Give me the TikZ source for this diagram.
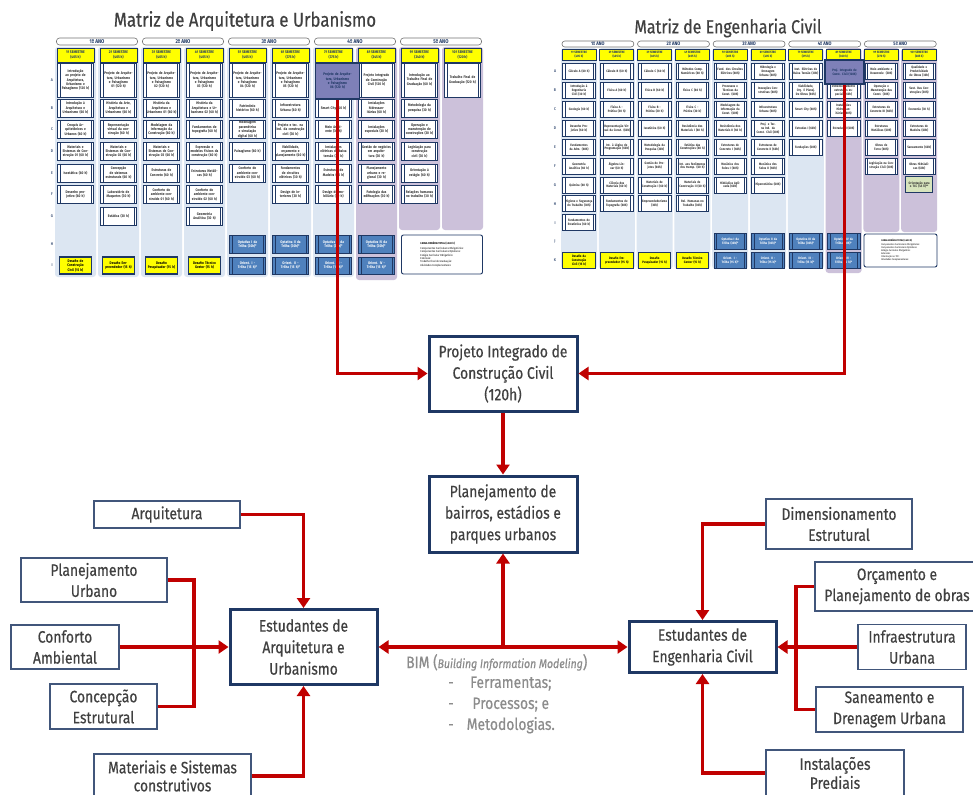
\documentclass[tikz,border=0pt]{standalone}
\usepackage{fontspec}
\setmainfont[FakeStretch=0.85]{Fira Sans}
\newfontfamily\boxfont[FakeStretch=0.84,FakeBold=0.5]{Fira Sans}
\usetikzlibrary{arrows.meta,positioning}

\definecolor{navy}{HTML}{1F3864}
\definecolor{linkred}{HTML}{C00000}
\definecolor{txtgray}{HTML}{404040}
\definecolor{bimgray}{HTML}{8C8C8C}
\definecolor{bgblue}{HTML}{DCE6F2}
\definecolor{bglav}{HTML}{CCC1DA}
\definecolor{optblue}{HTML}{4F81BD}
\definecolor{hiblue}{HTML}{7E80B8}
\definecolor{semyellow}{HTML}{FFFF00}
\definecolor{tccgreen}{HTML}{D7E4BD}

% row centres and heights of the two matrices
\def\arqYA{80}\def\arqHA{34}
\def\arqYB{108}\def\arqHB{18}
\def\arqYC{129.5}\def\arqHC{18}
\def\arqYD{151.5}\def\arqHD{18}
\def\arqYE{173}\def\arqHE{18}
\def\arqYF{194.5}\def\arqHF{18}
\def\arqYG{216}\def\arqHG{18}
\def\arqYH{244.5}\def\arqHH{18}
\def\arqYI{265.5}\def\arqHI{17}
\def\engYA{71.5}\def\engYB{90.4}\def\engYC{109.3}\def\engYD{128.2}
\def\engYE{147.1}\def\engYF{166}\def\engYG{184.9}\def\engYH{203.8}
\def\engYI{222.7}\def\engYJ{241.6}\def\engYK{260.5}

\newcommand{\arqcell}[4][]{\node[disc,#1,minimum height=\csname arqH#3\endcsname pt] (arq#3#2) at ({57+43*(#2-1)+18.5},{\csname arqY#3\endcsname}) {#4};}
\newcommand{\engcell}[4][]{\node[disc,ecell,#1] (eng#3#2) at ({562+37.8*(#2-1)+17},{\csname engY#3\endcsname}) {#4};}

\tikzset{
  mainbox/.style={draw=navy, line width=3pt, fill=white, text=txtgray, align=center, inner sep=2pt, font=\boxfont\fontsize{16.5}{21.5}\selectfont},
  topic/.style={draw=navy!85, line width=1.4pt, fill=white, text=txtgray, align=center, inner sep=2pt, font=\boxfont\fontsize{16.5}{21}\selectfont},
  link/.style={draw=linkred, line width=3.6pt, -{Triangle[length=10pt,width=13pt]}},
  feed/.style={draw=linkred, line width=3.6pt},
  title/.style={text=txtgray, inner sep=0pt, font=\boxfont\fontsize{20}{24}\selectfont},
  bimtext/.style={text=bimgray, inner sep=0pt, align=left, font=\boxfont\fontsize{16.5}{21}\selectfont},
  disc/.style={draw=navy, line width=0.7pt, fill=white, text=black!80, align=center, inner sep=0.3pt,
    minimum width=35.5pt, text width=30pt, font=\fontsize{3.7}{4.4}\selectfont\bfseries,
    path picture={\draw[navy, line width=0.5pt]
      ([xshift=2.5pt]path picture bounding box.north west) -- ([xshift=2.5pt]path picture bounding box.south west)
      ([xshift=-2.5pt]path picture bounding box.north east) -- ([xshift=-2.5pt]path picture bounding box.south east);}},
  ecell/.style={minimum width=32.5pt, text width=27pt, minimum height=16pt, font=\fontsize{3.3}{3.9}\selectfont\bfseries},
  semhead/.style={draw=navy, line width=0.8pt, fill=semyellow, text=navy, align=center, inner sep=0.3pt,
    minimum height=14pt, font=\fontsize{3.8}{4.8}\selectfont\bfseries},
  anopill/.style={draw=black!55, line width=0.6pt, fill=white, rounded corners=3pt, inner sep=0pt,
    minimum height=7pt, text=navy, font=\fontsize{5.5}{5.5}\selectfont\bfseries},
  rowlab/.style={inner sep=0pt, text=navy!80, font=\fontsize{4}{4}\selectfont\bfseries},
  opt/.style={fill=optblue, text=white},
  desafio/.style={fill=semyellow, line width=1.1pt, text=black, path picture={}},
  hilite/.style={fill=hiblue, line width=1.6pt, text=navy, path picture={}},
  tcc/.style={fill=tccgreen, line width=1pt, path picture={}},
  carga/.style={draw=navy, line width=0.9pt, fill=white, rounded corners=2pt, align=left, inner sep=1.5pt,
    text=black, font=\fontsize{2.8}{3.4}\selectfont},
}

\begin{document}
\begin{tikzpicture}[x=1pt,y=-1pt]
\fill[white] (0,0) rectangle (973,794);
\useasboundingbox (0,0) rectangle (973,794);

% ---------- Matriz de Arquitetura e Urbanismo ----------
\node[title] (arqtitle) at (245,21) {Matriz de Arquitetura e Urbanismo};
\foreach \c in {1,...,7}
  \fill[bgblue, rounded corners=3pt] ({57+43*(\c-1)-2},47) rectangle +(41,230);
\fill[bglav, rounded corners=3pt] (356,47) rectangle +(41,233);
\foreach \c in {9,10}
  \fill[bglav, rounded corners=3pt] ({57+43*(\c-1)-2},47) rectangle +(41,183);
\foreach \y in {1,...,5}
  \node[anopill, minimum width=81pt] (arqano\y) at ({57+86*(\y-1)+40},41.5) {{\y}º ANO};
\foreach \c/\h in {1/405,2/405,3/405,4/405,5/405,6/375,7/375,8/345,9/240,10/120}
  \node[semhead, minimum width=37pt] (arqsem\c) at ({57+43*(\c-1)+18.5},55) {{\c}º SEMESTRE\\(\h\ h)};
\foreach \r in {A,B,C,D,E,F,G,H,I}
  \node[rowlab] (arqrow\r) at (52,{\csname arqY\r\endcsname}) {\r};
\foreach \c/\r/\t in {
  1/A/{Introdução ao projeto de Arquitetura, Urbanismo e Paisagismo (120 h)},
  1/B/{Introdução à Arquitetura e Urbanismo (60 h)},
  1/C/{Croquis Arquitetônicos e Urbanos (60 h)},
  1/D/{Materiais e Sistemas de Construção 01 (60 h)},
  1/E/{Isostática (60 h)},
  1/F/{Desenho projetivo (60 h)},
  2/A/{Projeto de Arquitetura, Urbanismo e Paisagismo 01 (120 h)},
  2/B/{História da Arte, Arquitetura e Urbanismo (60 h)},
  2/C/{Representação virtual da construção (60 h)},
  2/D/{Materiais e Sistemas de Construção 02 (60 h)},
  2/E/{Concepção de sistemas estruturais (60 h)},
  2/F/{Laboratório de Maquetes (30 h)},
  2/G/{Estática (30 h)},
  3/A/{Projeto de Arquitetura, Urbanismo e Paisagismo 02 (120 h)},
  3/B/{História da Arquitetura e Urbanismo 01 (60 h)},
  3/C/{Modelagem da Informação da Construção (60 h)},
  3/D/{Materiais e Sistemas de Construção 03 (60 h)},
  3/E/{Estruturas de Concreto (60 h)},
  3/F/{Conforto do ambiente construído 01 (60 h)},
  4/A/{Projeto de Arquitetura, Urbanismo e Paisagismo 03 (120 h)},
  4/B/{História da Arquitetura e Urbanismo 02 (60 h)},
  4/C/{Fundamentos de topografia (60 h)},
  4/D/{Expressão e modelos físicos da construção (60 h)},
  4/E/{Estruturas Metálicas (60 h)},
  4/F/{Conforto do ambiente construído 02 (60 h)},
  4/G/{Geometria Analítica (30 h)},
  5/A/{Projeto de Arquitetura, Urbanismo e Paisagismo 04 (120 h)},
  5/B/{Patrimônio histórico (60 h)},
  5/C/{Modelagem paramétrica e simulação digital (60 h)},
  5/D/{Paisagismo (60 h)},
  5/E/{Conforto do ambiente construído 03 (60 h)},
  6/A/{Projeto de Arquitetura, Urbanismo e Paisagismo 05 (120 h)},
  6/B/{Infraestrutura Urbana (60 h)},
  6/C/{Projeto e tec. na ind. da construção civil (30 h)},
  6/D/{Viabilidade, orçamento e planejamento (60 h)},
  6/E/{Fundamentos de circuitos elétricos (30 h)},
  6/F/{Design de interiores (30 h)},
  7/B/{Smart City (60 h)},
  7/C/{Meio Ambiente (30 h)},
  7/D/{Instalações elétricas de baixa tensão (30 h)},
  7/E/{Estruturas de Madeira (30 h)},
  7/F/{Design de mobiliário (30 h)},
  8/A/{Projeto Integrado de Construção Civil (120 h)},
  8/B/{Instalações hidrossanitárias (60 h)},
  8/C/{Instalações especiais (30 h)},
  8/D/{Gestão de negócios em arquitetura (30 h)},
  8/E/{Planejamento urbano e regional (30 h)},
  8/F/{Patologia das edificações (30 h)},
  9/A/{Introdução ao Trabalho Final de Graduação (60 h)},
  9/B/{Metodologia da pesquisa (30 h)},
  9/C/{Operação e manutenção de construções (30 h)},
  9/D/{Legislação para construção civil (30 h)},
  9/E/{Orientação à estágio (60 h)},
  9/F/{Relações humanas no trabalho (30 h)},
  10/A/{Trabalho Final de Graduação (120 h)}}
  \arqcell{\c}{\r}{\t};
\foreach \c/\k in {5/I,6/II,7/III,8/IV} {
  \arqcell[opt]{\c}{H}{Optativa \k\ da Trilha (30h)*}
  \arqcell[opt]{\c}{I}{Orient. \k\ - Trilha (15 h)*}
}
\foreach \c/\t in {1/{Desafio de Construção Civil (15 h)},2/{Desafio Empreendedor (15 h)},
                   3/{Desafio Pesquisador (15 h)},4/{Desafio Técnico Gestor (15 h)}}
  \arqcell[desafio, minimum width=32pt]{\c}{I}{\t};
\node[disc, hilite, minimum width=44pt, minimum height=36pt] (arqA7) at (337.5,81)
  {Projeto de Arquitetura, Urbanismo e Paisagismo 06 (120 h)};
\node[carga, minimum width=81pt, minimum height=39pt] (arqcarga) at (442,254.5)
  {\hfill\textbf{CARGA HORÁRIA TOTAL (3.630 h)}\hfill\null\\[1pt]
   Componentes Curriculares Obrigatórios:\\Componentes Curriculares Optativos:\\
   Estágio Curricular Obrigatório:\\Extensão:\\Trabalho Final de Graduação:\\Atividades Complementares:};

% ---------- Matriz de Engenharia Civil ----------
\node[title, font=\boxfont\fontsize{19}{23}\selectfont] (engtitle) at (728,28) {Matriz de Engenharia Civil};
\foreach \c in {1,...,7}
  \fill[bgblue, rounded corners=3pt] ({562+37.8*(\c-1)-1},48) rectangle +(36,221);
\fill[bglav, rounded corners=3pt] (825.6,48) rectangle +(36,225);
\foreach \c in {9,10}
  \fill[bglav, rounded corners=3pt] ({562+37.8*(\c-1)-1},48) rectangle +(36,184);
\foreach \y in {1,...,5}
  \node[anopill, minimum width=72pt, minimum height=6pt, font=\fontsize{5}{5}\selectfont\bfseries] (engano\y) at ({562+75.6*(\y-1)+35.9},44) {{\y}º ANO};
\foreach \c/\h in {1/405,2/405,3/405,4/405,5/405,6/405,7/315,8/360,9/270,10/285}
  \node[semhead, minimum width=34pt, minimum height=11pt, font=\fontsize{3.2}{4}\selectfont\bfseries]
    (engsem\c) at ({562+37.8*(\c-1)+17},54.5) {{\c}º SEMESTRE\\(\h\ h)};
\foreach \r in {A,B,C,D,E,F,G,H,I,J,K}
  \node[rowlab] (engrow\r) at (555,{\csname engY\r\endcsname}) {\r};
\foreach \c/\r/\t in {
  1/A/{Cálculo A (60 h)},
  1/B/{Introdução à Engenharia Civil (30 h)},
  1/C/{Geologia (60 h)},
  1/D/{Desenho Projetivo (60 h)},
  1/E/{Fundamentos da Adm. (60h)},
  1/F/{Geometria Analítica (60 h)},
  1/G/{Química (60 h)},
  1/H/{Higiene e Segurança do Trabalho (30h)},
  1/I/{Fundamentos de Estatística (60 h)},
  2/A/{Cálculo B (60 h)},
  2/B/{Física A (60 h)},
  2/C/{Física A - Prática (30 h)},
  2/D/{Representação Virtual da Const. (60h)},
  2/E/{Int. à Lógica de Programação (60h)},
  2/F/{Álgebra Linear (60 h)},
  2/G/{Ciência dos Materiais (60 h)},
  2/H/{Fundamentos de Topografia (60h)},
  3/A/{Cálculo C (60 h)},
  3/B/{Física B (60 h)},
  3/C/{Física B - Prática (30 h)},
  3/D/{Isostática (60 h)},
  3/E/{Metodologia da Pesquisa (30h)},
  3/F/{Gestão de Projetos (60h)},
  3/G/{Materiais de Construção I (60 h)},
  3/H/{Empreendedorismo (30h)},
  4/A/{Métodos Comp. Numéricos (60 h)},
  4/B/{Física C (60 h)},
  4/C/{Física C - Prática (30 h)},
  4/D/{Resistência dos Materiais I (60 h)},
  4/E/{Estática das Construções (60 h)},
  4/F/{Int. aos fenômenos dos transp. (60 h)},
  4/G/{Materiais de Construção II (60 h)},
  4/H/{Rel. Humanas no Trabalho (30h)},
  5/A/{Fund. dos Circuitos Elétricos (60h)},
  5/B/{Processos e Técnicas da Const. (60h)},
  5/C/{Modelagem da Informação da Const. (60h)},
  5/D/{Resistência dos Materiais II (60 h)},
  5/E/{Estruturas de Concreto I (60h)},
  5/F/{Mecânica dos Solos I (60h)},
  5/G/{Hidráulica Aplicada (60h)},
  6/A/{Hidrologia e Drenagem Urbana (60h)},
  6/B/{Inovações Construtivas (60h)},
  6/C/{Infraestrutura Urbana (60h)},
  6/D/{Proj. e Tec. na Ind. da Const. Civil (30h)},
  6/E/{Estruturas de Concreto II (60h)},
  6/F/{Mecânica dos Solos II (60h)},
  6/G/{Hiperestática (60h)},
  7/A/{Inst. Elétricas de Baixa Tensão (30h)},
  7/B/{Viabilidade, Orç. E Planej. De Obras (60h)},
  7/C/{Smart City (60h)},
  7/D/{Estradas I (60h)},
  7/E/{Fundações (60h)},
  8/B/{Dimensionamento estruturas especiais (60h)},
  8/C/{Instalações Hidrossanitárias (60h)},
  8/D/{Estradas II (60h)},
  9/A/{Meio ambiente e Desenvolv. (30h)},
  9/B/{Operação e Manutenção das Const. (30h)},
  9/C/{Estruturas de Concreto III (60h)},
  9/D/{Estruturas Metálicas (60h)},
  9/E/{Obras de Terra (60h)},
  9/F/{Legislação na Construção Civil (30h)},
  10/A/{Qualidade e Produtividade de Obras (30h)},
  10/B/{Sust. Das Construções (30h)},
  10/C/{Economia (30 h)},
  10/D/{Estruturas de Madeira (60h)},
  10/E/{Saneamento (60h)},
  10/F/{Obras Hidráulicas (60h)}}
  \engcell{\c}{\r}{\t};
\foreach \c/\k in {5/I,6/II,7/III,8/IV} {
  \engcell[opt]{\c}{J}{Optativa \k\ da Trilha (30h)*}
  \engcell[opt]{\c}{K}{Orient. \k\ - Trilha (15 h)*}
}
\foreach \c/\t in {1/{Desafio da Construção Civil (15 h)},2/{Desafio Empreendedor (15 h)},
                   3/{Desafio Pesquisador (15 h)},4/{Desafio Técnico Gestor (15 h)}}
  \engcell[desafio]{\c}{K}{\t};
\engcell[tcc, minimum width=27pt, text width=24pt]{10}{G}{Orientação para o TCC (45 h)**}
\node[disc, ecell, hilite, minimum width=39pt, minimum height=24pt] (engA8) at (844.5,72)
  {Proj. Integrado de Const. Civil (120h)};
\node[carga, minimum width=73pt, minimum height=33pt, font=\fontsize{2.5}{3}\selectfont] (engcarga) at (900.5,250.5)
  {\hfill\textbf{CARGA HORÁRIA TOTAL (3.600 h)}\hfill\null\\[1pt]
   Componentes Curriculares Obrigatórios:\\Componentes Curriculares Optativos:\\
   Estágio Curricular Obrigatório:\\Extensão:\\Orientação no TCC:\\Atividades Complementares:};

% ---------- fluxo ----------
\node[mainbox, minimum width=148pt, minimum height=75pt] (projeto) at (503,373.5) {Projeto Integrado de\\Construção Civil\\(120h)};
\node[mainbox, minimum width=148pt, minimum height=76pt] (bairros) at (503,514) {Planejamento de\\bairros, estádios e\\parques urbanos};
\node[mainbox, minimum width=147pt, minimum height=75pt] (estarq) at (303.5,647) {Estudantes de\\Arquitetura e\\Urbanismo};
\node[mainbox, minimum width=147pt, minimum height=51pt] (esteng) at (702.5,647) {Estudantes de\\Engenharia Civil};

\node[topic, minimum width=146pt, minimum height=27pt] (arquitetura) at (167,514.5) {Arquitetura};
\node[topic, minimum width=146pt, minimum height=44pt] (planurb) at (94,580) {Planejamento\\Urbano};
\node[topic, minimum width=108pt, minimum height=44pt] (conforto) at (65,647) {Conforto\\Ambiental};
\node[topic, minimum width=107pt, minimum height=45pt] (concepcao) at (103.5,706.5) {Concepção\\Estrutural};
\node[topic, minimum width=157pt, minimum height=44pt, font=\boxfont\fontsize{16.5}{18}\selectfont] (materiais) at (172.5,776) {Materiais e Sistemas\\construtivos};

\node[topic, minimum width=146pt, minimum height=50pt] (dimens) at (839,524) {Dimensionamento\\Estrutural};
\node[topic, minimum width=164pt, minimum height=49pt] (orcam) at (897,586.5) {Orçamento e\\Planejamento de obras};
\node[topic, minimum width=108pt, minimum height=45pt] (infra) at (912,647) {Infraestrutura\\Urbana};
\node[topic, minimum width=147pt, minimum height=45pt] (saneam) at (889.5,709.5) {Saneamento e\\Drenagem Urbana};
\node[topic, minimum width=138pt, minimum height=46pt, font=\boxfont\fontsize{16.5}{19}\selectfont] (instal) at (835,773) {Instalações\\Prediais};

\node[bimtext, anchor=base west] (bimlabel) at (406,668)
  {BIM ({\fontsize{12.5}{14}\selectfont\itshape Building Information Modeling})};
\node[bimtext, anchor=north west] (bimlist) at (448,673)
  {\begin{tabular}{@{}l@{\hspace{13pt}}c@{}}-&Ferramentas;\\-&Processos; e\\-&Metodologias.\end{tabular}};

\coordinate (bim) at (503,647);
\coordinate (colarq) at (194,647);
\coordinate (coleng) at (796,647);

\draw[link] (arqA7) |- (projeto);
\draw[link] (engA8) |- (projeto);
\draw[link] (projeto) -- (bairros);
\draw[link] (bim) -- (bairros);
\draw[link] (bim) -- (estarq);
\draw[link] (bim) -- (esteng);

\draw[link] (arquitetura) -| (estarq);
\draw[feed] (planurb) -| (colarq);
\draw[feed] (concepcao) -| (colarq);
\draw[link] (conforto) -- (estarq);
\draw[link] (materiais) -| (estarq);

\draw[link] (dimens) -| (esteng);
\draw[feed] (orcam) -| (coleng);
\draw[feed] (saneam) -| (coleng);
\draw[link] (infra) -- (esteng);
\draw[link] (instal) -| (esteng);
\end{tikzpicture}
\end{document}
